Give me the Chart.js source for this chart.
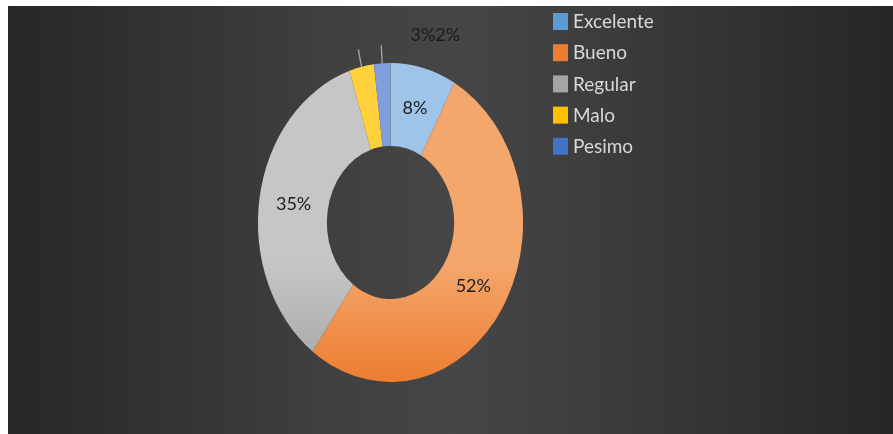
<!DOCTYPE html>
<html>
<head>
<meta charset="utf-8">
<script src="https://cdn.jsdelivr.net/npm/chart.js@4.4.1/dist/chart.umd.min.js"></script>
<style>
    html, body { margin: 0; padding: 0; background: #ffffff; }
    #panel {
        position: absolute;
        left: 8px;
        top: 6px;
        width: 885px;
        height: 428px;
        background: linear-gradient(to right, #272727 0%, #3f3f3f 35%, #464646 50%, #3c3c3c 68%, #262626 100%);
    }
    #ratingChart { display: block; }
</style>
</head>
<body>
<div id="panel">
    <canvas id="ratingChart" width="885" height="428"></canvas>
</div>
<script>
// encuesta de satisfaccion
const categories = ['Excelente', 'Bueno', 'Regular', 'Malo', 'Pesimo'];
const percentages = [8, 52, 35, 3, 2];
const baseColors = ['#5b9bd5', '#ed7d31', '#a5a5a5', '#ffc000', '#4472c4'];
const lightColors = ['#9ec4e7', '#f4a76d', '#c6c6c6', '#ffd23c', '#7f9fdc'];

// the ring is drawn narrower than it is tall
const SQUEEZE = 0.831;
const FONT = 'Lato, "Open Sans", sans-serif';

function sliceFill(ctx) {
    const chart = ctx.chart;
    const area = chart.chartArea;
    const i = ctx.dataIndex;
    if (!area || i === undefined) return baseColors[i] || '#999';
    const g = chart.ctx.createLinearGradient(0, area.top, 0, area.bottom);
    g.addColorStop(0, lightColors[i]);
    g.addColorStop(0.62, lightColors[i]);
    g.addColorStop(1, baseColors[i]);
    return g;
}

const squeezePlugin = {
    id: 'squeeze',
    beforeDatasetsDraw(chart) {
        const c = chart.ctx;
        const cx = chart.getDatasetMeta(0).data[0].x;
        c.save();
        c.translate(cx, 0);
        c.scale(SQUEEZE, 1);
        c.translate(-cx, 0);
    },
    afterDatasetsDraw(chart) {
        chart.ctx.restore();
    }
};

const labelPlugin = {
    id: 'pctLabels',
    afterDraw(chart) {
        const c = chart.ctx;
        const arcs = chart.getDatasetMeta(0).data;
        const cx = arcs[0].x;
        let smallX = cx + 20;
        c.save();
        c.font = '18px ' + FONT;
        c.textBaseline = 'middle';
        arcs.forEach((arc, i) => {
            const text = percentages[i] + '%';
            if (percentages[i] >= 5) {
                const p = arc.tooltipPosition();
                c.fillStyle = '#1c1c1c';
                c.textAlign = 'center';
                c.fillText(text, cx + (p.x - cx) * SQUEEZE, p.y);
            } else {
                const a = (arc.startAngle + arc.endAngle) / 2;
                const r1 = arc.outerRadius;
                const r2 = arc.outerRadius + 18;
                c.strokeStyle = '#a6a6a6';
                c.lineWidth = 1.3;
                c.beginPath();
                c.moveTo(cx + Math.cos(a) * r1 * SQUEEZE, arc.y + Math.sin(a) * r1);
                c.lineTo(cx + Math.cos(a) * r2 * SQUEEZE, arc.y + Math.sin(a) * r2);
                c.stroke();
                c.fillStyle = '#1a1a1a';
                c.textAlign = 'left';
                c.fillText(text, smallX, arc.y - arc.outerRadius - 28);
                smallX += c.measureText(text).width;
            }
        });
        c.restore();
    }
};

const legendPlugin = {
    id: 'sideLegend',
    afterDraw(chart) {
        const c = chart.ctx;
        const x = 545;
        const y0 = 15;
        const step = 31.2;
        c.save();
        c.font = '19px ' + FONT;
        c.textAlign = 'left';
        c.textBaseline = 'middle';
        chart.data.labels.forEach((label, i) => {
            const y = y0 + i * step;
            c.fillStyle = baseColors[i];
            c.fillRect(x, y - 8, 15, 17);
            c.fillStyle = '#d9d9d9';
            c.fillText(label, x + 20, y + 1);
        });
        c.restore();
    }
};

const chartData = {
    labels: categories,
    datasets: [{
        data: percentages,
        backgroundColor: sliceFill,
        borderWidth: 0,
        hoverOffset: 0
    }]
};

const config = {
    type: 'doughnut',
    data: chartData,
    options: {
        responsive: false,
        animation: false,
        cutout: '48%',
        layout: {
            padding: { left: 223, right: 343, top: 57, bottom: 52 }
        },
        plugins: {
            legend: { display: false },
            tooltip: { enabled: false }
        }
    },
    plugins: [squeezePlugin, labelPlugin, legendPlugin]
};

const ratingChart = new Chart(document.getElementById('ratingChart'), config);
</script>
</body>
</html>
